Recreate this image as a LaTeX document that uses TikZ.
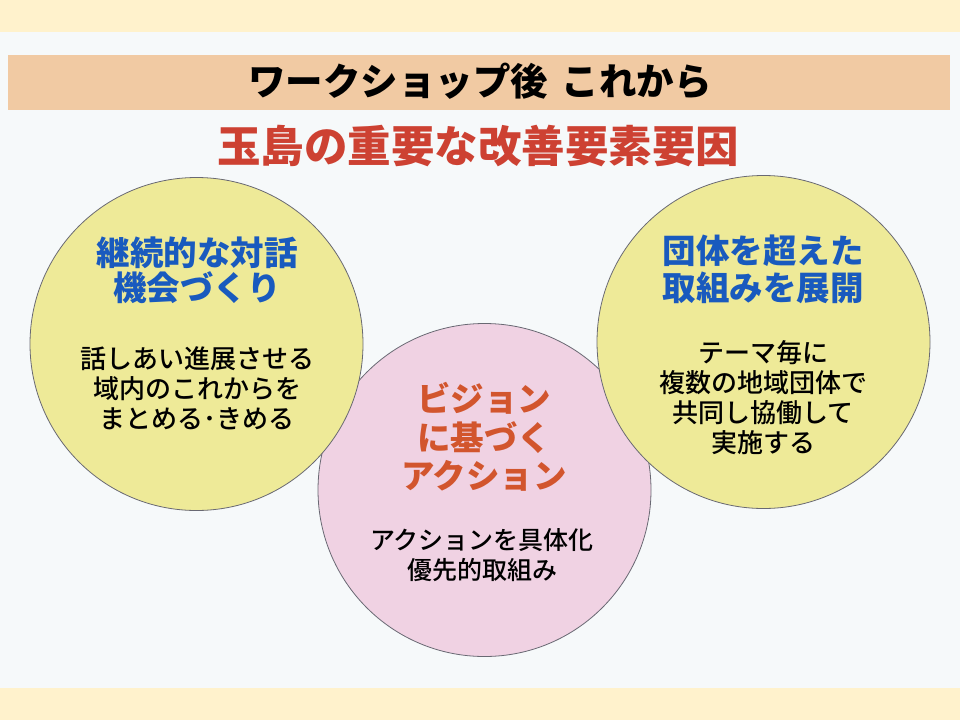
\documentclass[tikz,border=0pt]{standalone}
\usepackage{fontspec}
\newfontfamily\jp{Noto Sans CJK JP}
\newfontfamily\jpmed{Noto Sans CJK JP}[UprightFont={* Medium}]
\definecolor{cream}{RGB}{255,242,204}
\definecolor{paper}{RGB}{246,249,250}
\definecolor{barpeach}{RGB}{241,202,163}
\definecolor{subred}{RGB}{205,65,50}
\definecolor{headblue}{RGB}{25,90,190}
\definecolor{headorange}{RGB}{210,85,45}
\definecolor{circyellow}{RGB}{238,234,152}
\definecolor{circpink}{RGB}{240,210,227}
\definecolor{circline}{RGB}{105,105,115}
\tikzset{
  bigcircle/.style={circle, draw=circline, line width=0.8pt, minimum size=333pt, inner sep=0pt},
  headtxt/.style={align=center, inner sep=0pt},
  bodytxt/.style={align=center, text=black, inner sep=0pt}
}
\begin{document}
\begin{tikzpicture}[x=1pt,y=-1pt]
\useasboundingbox (0,0) rectangle (960,720);
\fill[paper] (0,0) rectangle (960,720);
\fill[cream] (0,0) rectangle (960,32);
\fill[cream] (0,688) rectangle (960,720);
\node[fill=barpeach, minimum width=942pt, minimum height=55pt, inner sep=0pt] (bar) at (479,82.5) {};
\node[font=\jp\bfseries\fontsize{37.5}{40}\selectfont, text=black] (title) at (480,81) {ワークショップ後\kern14pt これから};
\node[font=\jp\bfseries\fontsize{43.5}{46}\selectfont, text=subred] (sub) at (478,146) {玉島の重要な改善要素要因};
\node[bigcircle, fill=circpink] (mid) at (484.5,490) {};
\node[bigcircle, fill=circyellow] (left) at (196.5,344) {};
\node[bigcircle, fill=circyellow] (right) at (763.5,342) {};
\node[headtxt, text=headblue, font=\jp\bfseries\fontsize{33.5}{35}\selectfont] (lhead) at (197,270) {継続的な対話\\機会づくり};
\node[bodytxt, font=\jpmed\fontsize{26}{30}\selectfont] (lbody) at (197,388) {話しあい進展させる\\域内のこれからを\\まとめる･きめる};
\node[headtxt, text=headorange, font=\jp\bfseries\fontsize{33.5}{38.5}\selectfont] (mhead) at (484,437) {ビジョン\\に基づく\\アクション};
\node[bodytxt, font=\jpmed\fontsize{25}{30}\selectfont] (mbody) at (482,555) {アクションを具体化\\優先的取組み};
\node[headtxt, text=headblue, font=\jp\bfseries\fontsize{33.5}{37}\selectfont] (rhead) at (763,269) {団体を超えた\\取組みを展開};
\node[bodytxt, font=\jpmed\fontsize{26}{30}\selectfont] (rbody) at (763,398) {テーマ毎に\\複数の地域団体で\\共同し協働して\\実施する};
\end{tikzpicture}
\end{document}
